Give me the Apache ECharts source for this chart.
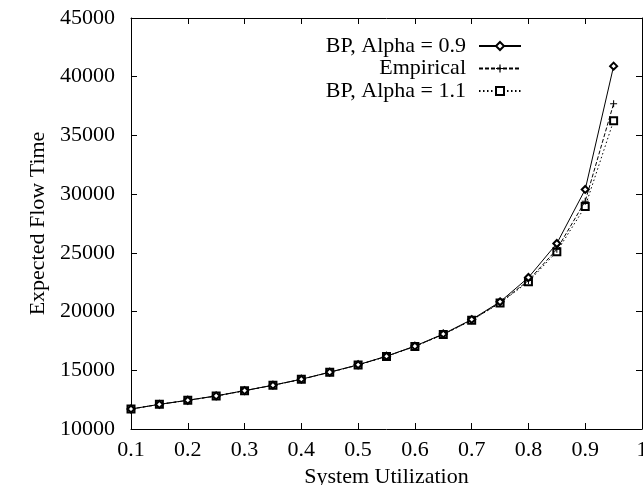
<!DOCTYPE html>
<html>
<head>
<meta charset="utf-8">
<script src="https://cdn.jsdelivr.net/npm/echarts@6/dist/echarts.min.js"></script>
<style>html,body{margin:0;padding:0;background:#fff}#c{width:643px;height:485px}</style>
</head>
<body>
<div id="c"></div>
<script>
const utilization = [0.1,0.15,0.2,0.25,0.3,0.35,0.4,0.45,0.5,0.55,0.6,0.65,0.7,0.75,0.8,0.85,0.9,0.95];
const bpAlpha09 = [11700,12100,12450,12820,13270,13730,14240,14840,15470,16200,17060,18090,19320,20830,22900,25800,30400,40900];
const empirical = [11700,12100,12440,12810,13260,13720,14230,14830,15450,16190,17040,18060,19280,20760,22650,25300,29400,37700];
const bpAlpha11 = [11700,12100,12440,12810,13260,13720,14230,14830,15450,16180,17030,18050,19260,20720,22550,25100,28950,36250];
const seriesNames = ['BP, Alpha = 0.9','Empirical','BP, Alpha = 1.1'];
const xTitle = 'System Utilization';
const yTitle = 'Expected Flow Time';

const FONT = '"Liberation Serif","Times New Roman",serif';
const pair = (arr) => utilization.map((x,i)=>[x,arr[i]]);
const plusPath = 'path://M3.4,0H4.6V3.4H8V4.6H4.6V8H3.4V4.6H0V3.4H3.4Z';

const chart = echarts.init(document.getElementById('c'), null, {renderer:'canvas'});
const mirrorAxisCommon = {
  axisLine:{show:true,lineStyle:{color:'#000',width:1}},
  axisTick:{show:true,inside:true,length:6,lineStyle:{color:'#000'}},
  axisLabel:{show:false},
  splitLine:{show:false}
};
chart.setOption({
  animation:false,
  backgroundColor:'#fff',
  textStyle:{fontFamily:FONT,color:'#000'},
  grid:{left:131,right:1,top:18,bottom:56,containLabel:false,outerBoundsMode:'none'},
  legend:{
    orient:'vertical', right:116, top:30, align:'right',
    itemWidth:42, itemHeight:10, itemGap:0.5,
    textStyle:{fontFamily:FONT,fontSize:22,color:'#000',lineHeight:22,padding:[0,8,0,0]},
    data:seriesNames
  },
  xAxis:[{
    type:'value', min:0.1, max:1, interval:0.1, position:'bottom',
    name:xTitle, nameLocation:'middle', nameGap:32,
    nameTextStyle:{fontFamily:FONT,fontSize:22,color:'#000'},
    axisLine:{show:true,lineStyle:{color:'#000',width:1}},
    axisTick:{show:true,inside:true,length:6,lineStyle:{color:'#000'}},
    axisLabel:{fontFamily:FONT,fontSize:22,color:'#000',margin:10,
      formatter:(v)=>String(Number(v.toFixed(1)))},
    splitLine:{show:false}
  },Object.assign({type:'value',min:0.1,max:1,interval:0.1,position:'top'},mirrorAxisCommon)],
  yAxis:[{
    type:'value', min:10000, max:45000, interval:5000, position:'left',
    name:yTitle, nameLocation:'middle', nameGap:69, nameRotate:90,
    nameTextStyle:{fontFamily:FONT,fontSize:22,color:'#000'},
    axisLine:{show:true,lineStyle:{color:'#000',width:1}},
    axisTick:{show:true,inside:true,length:6,lineStyle:{color:'#000'}},
    axisLabel:{fontFamily:FONT,fontSize:22,color:'#000',margin:16,formatter:(v)=>String(v)},
    splitLine:{show:false}
  },Object.assign({type:'value',min:10000,max:45000,interval:5000,position:'right'},mirrorAxisCommon)],
  series:[
    {name:seriesNames[0],type:'line',data:pair(bpAlpha09),symbol:'emptyDiamond',symbolSize:7,
      lineStyle:{color:'#000',width:1,type:'solid'},itemStyle:{color:'#000',borderWidth:1},z:3},
    {name:seriesNames[1],type:'line',data:pair(empirical),symbol:plusPath,symbolSize:7,
      lineStyle:{color:'#000',width:1,type:[4,2]},itemStyle:{color:'#000'},z:2},
    {name:seriesNames[2],type:'line',data:pair(bpAlpha11),symbol:'emptyRect',symbolSize:7,
      lineStyle:{color:'#000',width:1,type:[1.5,2.5]},itemStyle:{color:'#000',borderWidth:1},z:1}
  ]
});
</script>
</body>
</html>
